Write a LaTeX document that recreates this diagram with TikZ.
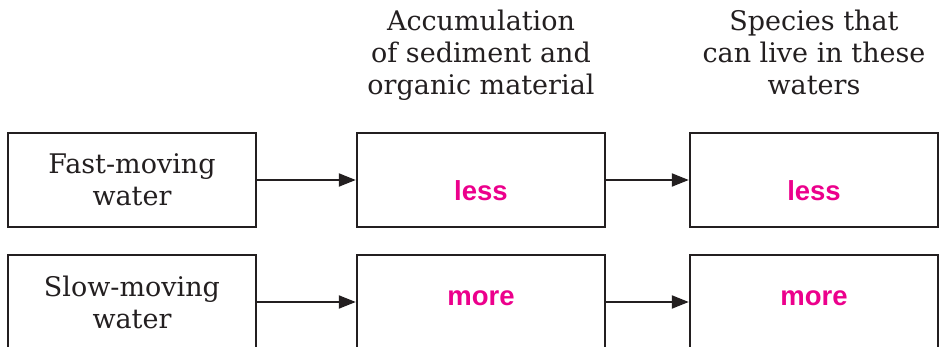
\documentclass[tikz,border=0pt]{standalone}
\usepackage{fontspec}
\setmainfont{DejaVu Serif}
\newfontfamily\valfont{Liberation Sans}
\usetikzlibrary{positioning,arrows.meta}
\definecolor{inkgray}{RGB}{35,31,32}
\definecolor{valpink}{RGB}{236,0,140}

\begin{document}
\begin{tikzpicture}[x=1pt,y=-1pt,every node/.style={font=\fontsize{27}{32}\selectfont,align=center,text=inkgray},
  box/.style={draw=inkgray,line width=2.4pt,minimum width=248pt,minimum height=94pt,inner sep=0pt},
  val/.style={font=\fontsize{27.5}{32}\selectfont\valfont\bfseries,text=valpink},
  head/.style={inner sep=0pt,text depth=0pt},
  link/.style={draw=inkgray,line width=2pt,-{Triangle[length=17pt,width=13pt]}}]
  \useasboundingbox (0,0) rectangle (947,347);
  \node[box] (fast) at (132,180) {Fast-moving\\water};
  \node[box,right=98.6pt of fast] (accFast) {};
  \node[box,right=82.6pt of accFast] (spFast) {};
  \node[box,below=25.6pt of fast] (slow) {Slow-moving\\water};
  \node[box,below=25.6pt of accFast] (accSlow) {};
  \node[box,below=25.6pt of spFast] (spSlow) {};
  \node[val] (accLess) at ([yshift=-10.5pt]accFast.center) {less};
  \node[val] (spLess) at ([yshift=-10.5pt]spFast.center) {less};
  \node[val] (accMore) at ([yshift=4pt]accSlow.center) {more};
  \node[val] (spMore) at ([yshift=4pt]spSlow.center) {more};
  \node[head,above=36.6pt of accFast] (accHead) {Accumulation\\of sediment and\\organic material};
  \node[head,above=36.6pt of spFast] (spHead) {Species that\\can live in these\\waters};
  \draw[link] (fast) -- (accFast);
  \draw[link] (accFast) -- (spFast);
  \draw[link] (slow) -- (accSlow);
  \draw[link] (accSlow) -- (spSlow);
\end{tikzpicture}
\end{document}
